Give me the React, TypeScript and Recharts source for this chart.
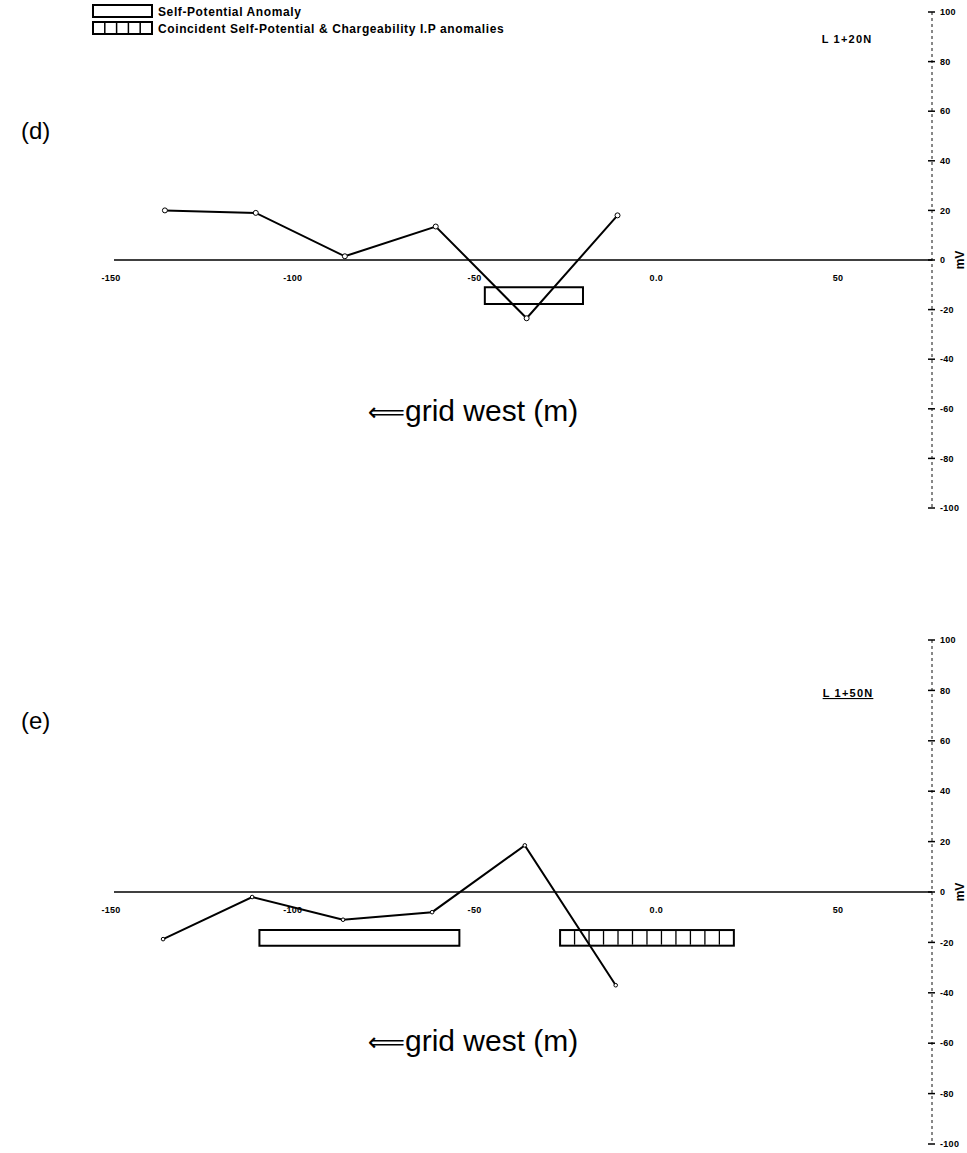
import React from 'react';
import {
  ComposedChart,
  Line,
  XAxis,
  YAxis,
  ReferenceLine,
  ReferenceArea,
  ReferenceDot,
} from 'recharts';

// ---------- data ----------
const xTickValues = [-150, -100, -50, 0, 50];
const xTickLabels = ['-150', '-100', '-50', '0.0', '50'];
const yTickValues = [-100, -80, -60, -40, -20, 0, 20, 40, 60, 80, 100];

// Line L 1+20N (panel d)
const stationsD = [-136, -111, -86.5, -61.5, -36.5, -11.5];
const selfPotentialD = [20, 19, 1.5, 13.5, -23.5, 18];
const anomaliesD = [{ kind: 'sp', from: -48, to: -21, low: -17.7, high: -11 }];

// Line L 1+50N (panel e)
const stationsE = [-136.5, -112, -87, -62.5, -37, -12];
const selfPotentialE = [-18.7, -2, -11, -8, 18.5, -37];
const anomaliesE = [
  { kind: 'sp', from: -110, to: -55, low: -21.3, high: -15.1 },
  { kind: 'coincident', from: -27.3, to: 20.5, low: -21.3, high: -15.1 },
];

const FONT = '"Liberation Sans", Arial, Helvetica, sans-serif';

type Anomaly = { kind: string; from: number; to: number; low: number; high: number };

const RightTick = (props: any) => {
  const { x, y, payload } = props;
  return (
    <g>
      <line x1={x - 4} x2={x + 3} y1={y} y2={y} stroke="#000" strokeWidth={1.5} />
      <text
        x={x + 8}
        y={y}
        dy={3.2}
        fontSize={9}
        fontWeight="bold"
        fontFamily={FONT}
        letterSpacing={0.3}
        fill="#000"
      >
        {payload.value}
      </text>
    </g>
  );
};

const CoincidentShape = (props: any) => {
  const { x, y, width, height } = props;
  const cells = 12;
  const divs = [];
  for (let i = 1; i < cells; i++) {
    const dx = x + (width * i) / cells;
    divs.push(
      <line key={i} x1={dx} x2={dx} y1={y + 1} y2={y + height - 1} stroke="#000" strokeWidth={1.3} />
    );
  }
  return (
    <g>
      <rect x={x} y={y} width={width} height={height} fill="none" stroke="#000" strokeWidth={2} />
      {divs}
    </g>
  );
};

const XTickLabel = (text: string) => (p: any) => {
  const vb = p.viewBox || {};
  const cx = vb.x + (vb.width || 0) / 2;
  const cy = vb.y + (vb.height || 0) / 2;
  return (
    <text
      x={cx - 3}
      y={cy + 21}
      textAnchor="middle"
      fontSize={9}
      fontWeight="bold"
      fontFamily={FONT}
      letterSpacing={0.3}
      fill="#000"
    >
      {text}
    </text>
  );
};

type PanelProps = {
  stations: number[];
  values: number[];
  anomalies: Anomaly[];
  height: number;
  marginTop: number;
  marginBottom: number;
  dotR: number;
};

const Panel = ({ stations, values, anomalies, height, marginTop, marginBottom, dotR }: PanelProps) => {
  const data = stations.map((s, i) => ({ x: s, v: values[i] }));
  return (
    <ComposedChart
      width={967}
      height={height}
      data={data}
      margin={{ top: marginTop, bottom: marginBottom, left: 114, right: 5 }}
    >
      <XAxis dataKey="x" type="number" domain={[-150, 75]} hide allowDataOverflow />
      <YAxis
        orientation="right"
        type="number"
        domain={[-100, 100]}
        ticks={yTickValues}
        interval={0}
        width={30}
        tickLine={false}
        tickSize={0}
        tickMargin={0}
        axisLine={{ stroke: '#111', strokeDasharray: '3 3', strokeWidth: 1 }}
        tick={<RightTick />}
        label={(p: any) => {
          const vb = p.viewBox || {};
          const cx = vb.x + 28;
          const cy = vb.y + vb.height / 2;
          return (
            <text
              x={cx}
              y={cy}
              transform={`rotate(-90 ${cx} ${cy})`}
              textAnchor="middle"
              dominantBaseline="central"
              fontSize={12}
              fontWeight="bold"
              fontFamily={FONT}
              fill="#000"
            >
              mV
            </text>
          );
        }}
      />
      <ReferenceLine y={0} stroke="#000" strokeWidth={1.6} ifOverflow="visible" />
      {anomalies.map((a, i) =>
        a.kind === 'coincident' ? (
          <ReferenceArea
            key={i}
            x1={a.from}
            x2={a.to}
            y1={a.low}
            y2={a.high}
            ifOverflow="visible"
            shape={<CoincidentShape />}
          />
        ) : (
          <ReferenceArea
            key={i}
            x1={a.from}
            x2={a.to}
            y1={a.low}
            y2={a.high}
            ifOverflow="visible"
            fill="none"
            fillOpacity={0}
            stroke="#000"
            strokeWidth={2}
          />
        )
      )}
      {xTickValues.map((v, i) => (
        <ReferenceDot
          key={v}
          x={v}
          y={0}
          r={0}
          fill="none"
          stroke="none"
          ifOverflow="visible"
          label={XTickLabel(xTickLabels[i])}
        />
      ))}
      <Line
        dataKey="v"
        type="linear"
        stroke="#000"
        strokeWidth={2}
        dot={{ r: dotR, fill: '#fff', stroke: '#000', strokeWidth: 1 }}
        activeDot={false}
        isAnimationActive={false}
      />
    </ComposedChart>
  );
};

const Overlay = () => (
  <svg
    width={967}
    height={1153}
    style={{ position: 'absolute', left: 0, top: 0, pointerEvents: 'none' }}
  >
    {/* legend */}
    <rect x={93} y={5} width={59} height={12} fill="none" stroke="#000" strokeWidth={2} />
    <text x={158} y={15.5} fontSize={12} fontWeight="bold" fontFamily={FONT} letterSpacing={0.6} fill="#000">
      Self-Potential Anomaly
    </text>
    <rect x={93} y={22} width={59} height={12} fill="none" stroke="#000" strokeWidth={2} />
    {[1, 2, 3, 4].map((i) => (
      <line key={i} x1={93 + (59 * i) / 5} x2={93 + (59 * i) / 5} y1={22} y2={34} stroke="#000" strokeWidth={1.5} />
    ))}
    <text x={158} y={32.5} fontSize={12} fontWeight="bold" fontFamily={FONT} letterSpacing={0.6} fill="#000">
      Coincident Self-Potential &amp; Chargeability I.P anomalies
    </text>

    {/* panel d */}
    <text x={847} y={43} textAnchor="middle" fontSize={11} fontWeight="bold" fontFamily={FONT} letterSpacing={1.2} fill="#000">
      L 1+20N
    </text>
    <text x={21} y={139} fontSize={24} fontFamily={FONT} fill="#000">
      (d)
    </text>
    <text x={473} y={421} textAnchor="middle" fontSize={30} fontFamily={FONT} fill="#000">
      <tspan fontFamily='"DejaVu Sans", sans-serif' fontSize={26}>⟸</tspan>grid west (m)
    </text>

    {/* panel e */}
    <text
      x={848}
      y={697}
      textAnchor="middle"
      fontSize={11}
      fontWeight="bold"
      fontFamily={FONT}
      letterSpacing={1.2}
      fill="#000"
      textDecoration="underline"
    >
      L 1+50N
    </text>
    <text x={21} y={729} fontSize={24} fontFamily={FONT} fill="#000">
      (e)
    </text>
    <text x={473} y={1051} textAnchor="middle" fontSize={30} fontFamily={FONT} fill="#000">
      <tspan fontFamily='"DejaVu Sans", sans-serif' fontSize={26}>⟸</tspan>grid west (m)
    </text>
  </svg>
);

export default function App() {
  return (
    <div style={{ position: 'absolute', left: 0, top: 0, width: 967, height: 1153, background: '#fff' }}>
      <div style={{ position: 'absolute', left: 0, top: 0 }}>
        <Panel
          stations={stationsD}
          values={selfPotentialD}
          anomalies={anomaliesD}
          height={560}
          marginTop={12}
          marginBottom={52}
          dotR={2.5}
        />
      </div>
      <div style={{ position: 'absolute', left: 0, top: 600 }}>
        <Panel
          stations={stationsE}
          values={selfPotentialE}
          anomalies={anomaliesE}
          height={553}
          marginTop={40}
          marginBottom={9}
          dotR={1.8}
        />
      </div>
      <Overlay />
    </div>
  );
}
